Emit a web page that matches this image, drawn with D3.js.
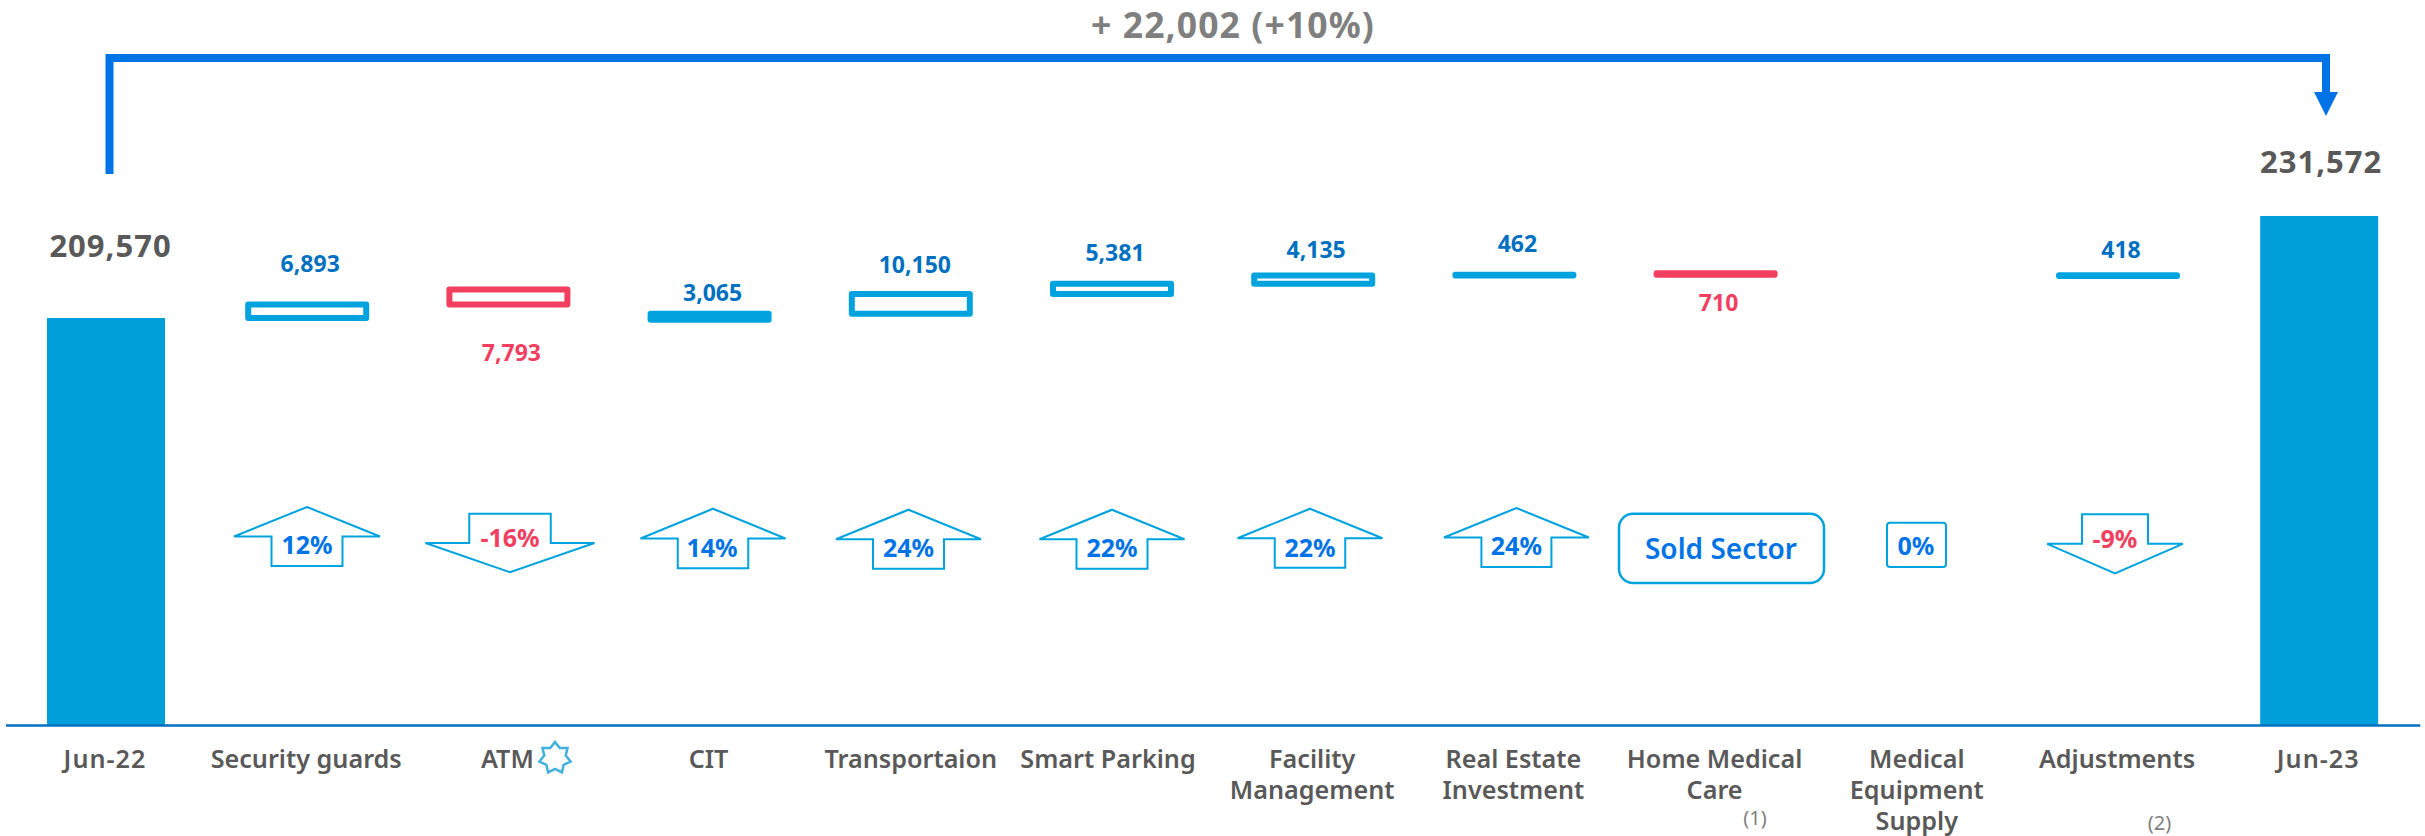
<!DOCTYPE html>
<html>
<meta charset="utf-8">
<style>
body { margin: 0; background: #fff; }
text { font-family: "Noto Sans", sans-serif; }
</style>
<body>
<script src="https://d3js.org/d3.v7.min.js"></script>
<script>
var width = 2425,
    height = 836;

// data
var categories = ["Jun-22", "Security guards", "ATM", "CIT", "Transportaion", "Smart Parking",
  "Facility Management", "Real Estate Investment", "Home Medical Care",
  "Medical Equipment Supply", "Adjustments", "Jun-23"];
var stepCats = categories.slice(1, 11);
var stepValues = [6893, -7793, 3065, 10150, 5381, 4135, 462, -710, 0, 418];
var startValue = 209570;
var endValue = 231572;
// the closing bar is drawn taller than its label, this is the height it reads on the same axis
var endBarDrawn = 262100;
var growth = [12, -16, 14, 24, 22, 22, 24, null, 0, -9];
var bridgeLabel = "+ 22,002 (+10%)";

// hand placement, same as in the slide
var tickLines = [["Jun-22"], ["Security guards"], ["ATM"], ["CIT"], ["Transportaion"], ["Smart Parking"],
  ["Facility", "Management"], ["Real Estate", "Investment"], ["Home Medical", "Care"],
  ["Medical", "Equipment", "Supply"], ["Adjustments"], ["Jun-23"]];
var tickDx = [-1, -1, -1, -1, 0, -4, -1, -1, -1, 0, -1, -1];
var stepLabelDx = [3, 3, 3, 4, 3, 3, 3, 3, 0, 3];
var stepLabelY = [272, 361, 301, 273, 261, 258, 252, 311, 0, 258];
var arrowLayout = [
  { cx: 307, top: 507, w: 146, shaft: 71, h: 59, textX: 307, textY: 554 },
  { cx: 510, top: 513.7, w: 169, shaft: 81.5, h: 58.6, textX: 510, textY: 546.7 },
  { cx: 713, top: 508.7, w: 145, shaft: 70.5, h: 59.5, textX: 712, textY: 556.7 },
  { cx: 908.5, top: 509.7, w: 145, shaft: 71, h: 59, textX: 908.5, textY: 557.3 },
  { cx: 1112, top: 509.7, w: 145, shaft: 71, h: 59, textX: 1112, textY: 557.3 },
  { cx: 1310, top: 508.7, w: 145, shaft: 70.5, h: 59, textX: 1310, textY: 556.7 },
  { cx: 1516.4, top: 508, w: 145, shaft: 70, h: 59, textX: 1516.4, textY: 555.3 },
  null,
  null,
  { cx: 2115, top: 514.3, w: 135.6, shaft: 66, h: 59, textX: 2115, textY: 547.7 }
];

var barColor = "#009fda",
    stepColor = "#00a3de",
    redColor = "#f23f5f",
    bridgeColor = "#0073e6",
    valueBlue = "#0070c0",
    pctBlue = "#0073e6",
    grey = "#595959";

var svg = d3.select("body").append("svg")
    .attr("width", width)
    .attr("height", height);

var x = d3.scaleBand()
    .domain(categories)
    .range([5.4, 2419.8])
    .paddingInner(0.4135)
    .paddingOuter(0.2068);

var y = d3.scaleLinear()
    .domain([0, startValue])
    .range([725, 318]);

function center(c) { return x(c) + x.bandwidth() / 2; }

// bridge arrow on top
var bridgePath = d3.path();
bridgePath.moveTo(109.5, 174);
bridgePath.lineTo(109.5, 58);
bridgePath.lineTo(2326, 58);
bridgePath.lineTo(2326, 94);
svg.append("path")
    .attr("d", bridgePath.toString())
    .style("fill", "none")
    .style("stroke", bridgeColor)
    .style("stroke-width", 8);
svg.append("path")
    .attr("d", d3.line()([[2314, 92], [2338, 92], [2326, 116]]))
    .style("fill", bridgeColor);
svg.append("text")
    .attr("x", 1233)
    .attr("y", 38)
    .attr("text-anchor", "middle")
    .style("font-size", "35.5px")
    .style("font-weight", 700)
    .style("letter-spacing", "1.1px")
    .style("fill", "#7f7f7f")
    .text(bridgeLabel);

// start and end bars
svg.selectAll(".total")
    .data([["Jun-22", startValue], ["Jun-23", endBarDrawn]])
    .enter().append("rect")
    .attr("class", "total")
    .attr("x", function(d) { return x(d[0]); })
    .attr("width", x.bandwidth())
    .attr("y", function(d) { return y(d[1]); })
    .attr("height", function(d) { return y(0) - y(d[1]); })
    .style("fill", barColor);

var fmt = d3.format(",");
svg.selectAll(".totalLabel")
    .data([["Jun-22", startValue, 257, 4.5], ["Jun-23", endValue, 173, 2]])
    .enter().append("text")
    .attr("class", "totalLabel")
    .attr("x", function(d) { return center(d[0]) + d[3]; })
    .attr("y", function(d) { return d[2]; })
    .attr("text-anchor", "middle")
    .style("font-size", "31px")
    .style("font-weight", 700)
    .style("letter-spacing", "1px")
    .style("fill", grey)
    .text(function(d) { return fmt(d[1]); });

// floating steps. A decrease is drawn upward from the running total, as in the reference
var running = startValue;
var steps = stepValues.map(function(v, i) {
  var s = { cat: stepCats[i], value: v, from: running, to: running + Math.abs(v), i: i };
  running += v;
  return s;
});

svg.selectAll(".step")
    .data(steps.filter(function(d) { return d.value !== 0; }))
    .enter().append("rect")
    .attr("class", "step")
    .attr("x", function(d) { return x(d.cat); })
    .attr("width", x.bandwidth())
    .attr("y", function(d) { return y(d.to); })
    .attr("height", function(d) { return y(d.from) - y(d.to); })
    .style("fill", "#fff")
    .style("stroke", function(d) { return d.value < 0 ? redColor : stepColor; })
    .style("stroke-width", 6)
    .style("stroke-linejoin", "round");

svg.selectAll(".stepLabel")
    .data(steps.filter(function(d) { return d.value !== 0; }))
    .enter().append("text")
    .attr("class", "stepLabel")
    .attr("x", function(d) { return center(d.cat) + stepLabelDx[d.i]; })
    .attr("y", function(d) { return stepLabelY[d.i]; })
    .attr("text-anchor", "middle")
    .style("font-size", "23px")
    .style("font-weight", 700)
    .style("fill", function(d) { return d.value < 0 ? redColor : valueBlue; })
    .text(function(d) { return fmt(Math.abs(d.value)); });

// growth arrows
function arrowPoints(a, up) {
  var l = a.cx - a.w / 2, r = a.cx + a.w / 2,
      sl = a.cx - a.shaft / 2, sr = a.cx + a.shaft / 2,
      b = a.top + a.h, m = a.top + a.h / 2;
  if (up) return [[a.cx, a.top], [r, m], [sr, m], [sr, b], [sl, b], [sl, m], [l, m]];
  return [[sl, a.top], [sr, a.top], [sr, m], [r, m], [a.cx, b], [l, m], [sl, m]];
}

growth.forEach(function(g, i) {
  var a = arrowLayout[i];
  if (!a) return;
  svg.append("path")
    .attr("d", d3.line().curve(d3.curveLinearClosed)(arrowPoints(a, g >= 0)))
    .style("fill", "#fff")
    .style("stroke", stepColor)
    .style("stroke-width", 2);
  svg.append("text")
    .attr("x", a.textX)
    .attr("y", a.textY)
    .attr("text-anchor", "middle")
    .style("font-size", "25px")
    .style("font-weight", 700)
    .style("fill", g < 0 ? redColor : pctBlue)
    .text(g + "%");
});

// sold sector and the flat 0% box
svg.append("rect")
    .attr("x", 1619).attr("y", 513.7)
    .attr("width", 205).attr("height", 69.3)
    .attr("rx", 14)
    .style("fill", "#fff")
    .style("stroke", stepColor)
    .style("stroke-width", 2.5);
svg.append("text")
    .attr("x", 1721).attr("y", 559)
    .attr("text-anchor", "middle")
    .style("font-size", "28px")
    .style("font-weight", 600)
    .style("fill", pctBlue)
    .text("Sold Sector");
svg.append("rect")
    .attr("x", 1887).attr("y", 522.7)
    .attr("width", 59).attr("height", 44.3)
    .attr("rx", 3)
    .style("fill", "#fff")
    .style("stroke", stepColor)
    .style("stroke-width", 2);
svg.append("text")
    .attr("x", 1916).attr("y", 555)
    .attr("text-anchor", "middle")
    .style("font-size", "25px")
    .style("font-weight", 700)
    .style("fill", pctBlue)
    .text(growth[8] + "%");

// x axis
var xAxis = svg.append("g")
    .attr("transform", "translate(0,725)")
    .call(d3.axisBottom(x).tickSize(0).tickPadding(0));
xAxis.select(".domain")
    .style("stroke", valueBlue)
    .style("stroke-width", 2.5);
xAxis.selectAll(".tick text").remove();

svg.selectAll(".tickLabel")
    .data(categories)
    .enter().append("text")
    .attr("class", "tickLabel")
    .attr("text-anchor", "middle")
    .style("font-size", "25.2px")
    .style("font-weight", 600)
    .style("letter-spacing", function(c) { return c.indexOf("Jun") === 0 ? "1px" : null; })
    .style("fill", grey)
    .each(function(c, i) {
      var t = d3.select(this);
      tickLines[i].forEach(function(line, j) {
        t.append("tspan")
          .attr("x", center(c) + tickDx[i])
          .attr("y", 767.7 + j * 31)
          .text(line);
      });
    });

// star next to ATM
var starRadii = d3.range(14).map(function(i) { return i % 2 ? 11 : 16; });
var star = d3.lineRadial()
    .angle(function(d, i) { return i * Math.PI / 7; })
    .radius(function(d) { return d; })
    .curve(d3.curveLinearClosed);
svg.append("path")
    .attr("transform", "translate(555,758)")
    .attr("d", star(starRadii))
    .style("fill", "none")
    .style("stroke", "#3fb1dc")
    .style("stroke-width", 2.5);

// footnote marks
svg.selectAll(".note")
    .data([["(1)", 1755, 825], ["(2)", 2159.5, 830]])
    .enter().append("text")
    .attr("class", "note")
    .attr("x", function(d) { return d[1]; })
    .attr("y", function(d) { return d[2]; })
    .attr("text-anchor", "middle")
    .style("font-size", "20px")
    .style("fill", "#7f7f7f")
    .text(function(d) { return d[0]; });
</script>
</body>
</html>
